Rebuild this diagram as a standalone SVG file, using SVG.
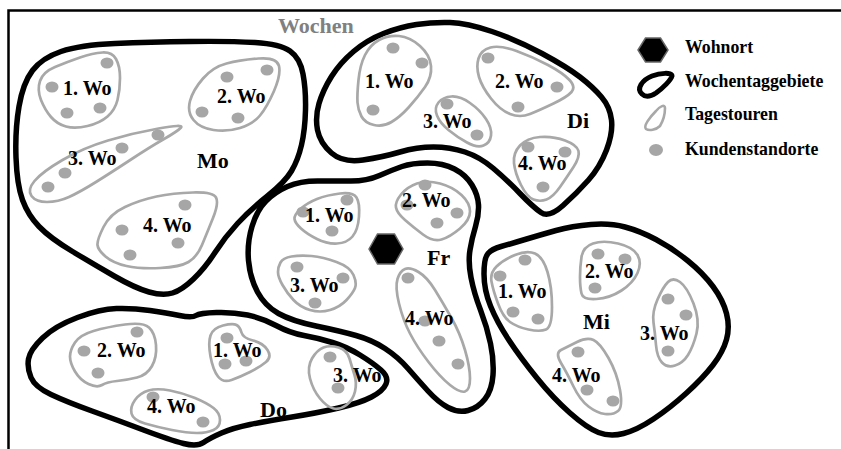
<svg xmlns="http://www.w3.org/2000/svg" width="841" height="449" viewBox="0 0 841 449">
<style>
.area{fill:none;stroke:#000;stroke-width:5.5;stroke-linejoin:round}
.tour{fill:none;stroke:#a8a8a8;stroke-width:2.7;stroke-linejoin:round}
.dot{fill:#a6a6a6}
.lbl{font-family:"Liberation Serif","Times New Roman",serif;font-weight:bold;font-size:20px;fill:#000}
.day{font-family:"Liberation Serif","Times New Roman",serif;font-weight:bold;font-size:22px;fill:#000}
.leg{font-family:"Liberation Serif","Times New Roman",serif;font-weight:bold;font-size:17.8px;fill:#000}
.home{fill:#000;stroke:#666;stroke-width:1.5}
</style>
<rect width="841" height="449" fill="#fff"/>
<g id="frame" fill="none" stroke="#000" stroke-width="2.5">
<path d="M8.5,449 V10.5 H841"/>
</g>
<text x="278" y="33" class="day" style="fill:#808080">Wochen</text>

<g id="Mo">
<path class="area" d="M19,106.5 Q23,83 32.5,70.5 Q42,58 61,51.5 Q80,45 115,43.5 Q150,42 190,41.5 Q230,41 255,42.5 Q280,44 290,51 Q300,58 303,74 Q306,90 305.5,110 Q305,130 301.5,145 Q298,160 291.5,171 Q285,182 267.5,196 Q250,210 237.5,223.5 Q225,237 215,252.5 Q205,268 193.5,279 Q182,290 172.5,293 Q163,296 149,292 Q135,288 115,276.5 Q95,265 72.5,251.5 Q50,238 39,226.5 Q28,215 22.5,200 Q17,185 16,157.5 Q15,130 19,106.5 Z"/>
<g id="Mo-1">
<path class="tour" d="M41,100 Q37,90 40,81 Q43,72 55,67 Q67,62 80,57.5 Q93,53 102.5,52.5 Q112,52 116,59 Q120,66 120,78 Q120,90 117.5,100 Q115,110 107.5,116.5 Q100,123 87.5,126 Q75,129 66,126.5 Q57,124 51,117 Q45,110 41,100 Z"/>
<ellipse class="dot" cx="107" cy="63" rx="6.5" ry="5.5"/><ellipse class="dot" cx="52" cy="87" rx="6.5" ry="5.5"/><ellipse class="dot" cx="67" cy="113" rx="6.5" ry="5.5"/><ellipse class="dot" cx="100" cy="108" rx="6.5" ry="5.5"/>
<text class="lbl" x="63" y="95">1. Wo</text>
</g>
<g id="Mo-2">
<path class="tour" d="M193.5,120 Q187,112 190,101 Q193,90 203,78.5 Q213,67 226.5,63.5 Q240,60 258.5,58.5 Q277,57 279,66 Q281,75 274,91 Q267,107 260,115.5 Q253,124 240,128 Q227,132 213.5,130 Q200,128 193.5,120 Z"/>
<ellipse class="dot" cx="227" cy="77" rx="6.5" ry="5.5"/><ellipse class="dot" cx="267" cy="70" rx="6.5" ry="5.5"/><ellipse class="dot" cx="202" cy="112" rx="6.5" ry="5.5"/><ellipse class="dot" cx="238" cy="118" rx="6.5" ry="5.5"/>
<text class="lbl" x="217" y="103">2. Wo</text>
</g>
<g id="Mo-3">
<path class="tour" d="M181,127.5 Q184,124 158.5,128.5 Q133,133 108,140.5 Q83,148 62.5,160 Q42,172 34.5,181 Q27,190 31.5,196 Q36,202 47,202 Q58,202 69,197 Q80,192 96,182 Q112,172 131,159.5 Q150,147 164,139 Q178,131 181,127.5 Z"/>
<ellipse class="dot" cx="158" cy="135" rx="6.5" ry="5.5"/><ellipse class="dot" cx="122" cy="148" rx="6.5" ry="5.5"/><ellipse class="dot" cx="65" cy="173" rx="6.5" ry="5.5"/><ellipse class="dot" cx="48" cy="187" rx="6.5" ry="5.5"/>
<text class="lbl" x="68" y="165">3. Wo</text>
</g>
<g id="Mo-4">
<path class="tour" d="M97.5,245 Q97,240 103.5,227 Q110,214 125,207 Q140,200 156.5,196.5 Q173,193 193,192.5 Q213,192 216,197.5 Q219,203 213,218 Q207,233 202,245 Q197,257 188.5,262 Q180,267 160,268 Q140,269 126.5,266 Q113,263 105.5,256.5 Q98,250 97.5,245 Z"/>
<ellipse class="dot" cx="185" cy="205" rx="6.5" ry="5.5"/><ellipse class="dot" cx="122" cy="230" rx="6.5" ry="5.5"/><ellipse class="dot" cx="178" cy="243" rx="6.5" ry="5.5"/><ellipse class="dot" cx="130" cy="255" rx="6.5" ry="5.5"/>
<text class="lbl" x="143" y="232">4. Wo</text>
</g>
<text class="day" x="197" y="168">Mo</text>
</g>

<g id="Di">
<path class="area" d="M317.5,130 Q315,117 319,103.5 Q323,90 331.5,76.5 Q340,63 353.5,51.5 Q367,40 383.5,33.5 Q400,27 416.5,24.5 Q433,22 450,22.5 Q467,23 492,31.5 Q517,40 542,53.5 Q567,67 580,77 Q593,87 601.5,97 Q610,107 611.5,120 Q613,133 606.5,150 Q600,167 588.5,180 Q577,193 563,205.5 Q549,218 541,212.5 Q533,207 520,193.5 Q507,180 493.5,168.5 Q480,157 465,152 Q450,147 433.5,147 Q417,147 400,152 Q383,157 363,160 Q343,163 331.5,153 Q320,143 317.5,130 Z"/>
<g id="Di-1">
<path class="tour" d="M357.5,102.5 Q357,95 358.5,80 Q360,65 365,55 Q370,45 379,40 Q388,35 399,36 Q410,37 420,46 Q430,55 431,66 Q432,77 425,87 Q418,97 409,107 Q400,117 391.5,122 Q383,127 374,125 Q365,123 361.5,116.5 Q358,110 357.5,102.5 Z"/>
<ellipse class="dot" cx="393" cy="48" rx="6.5" ry="5.5"/><ellipse class="dot" cx="422" cy="63" rx="6.5" ry="5.5"/><ellipse class="dot" cx="373" cy="110" rx="6.5" ry="5.5"/>
<text class="lbl" x="365" y="88">1. Wo</text>
</g>
<g id="Di-2">
<path class="tour" d="M479,77 Q476,67 478.5,58.5 Q481,50 490.5,47.5 Q500,45 516.5,51 Q533,57 548,65 Q563,73 569.5,80 Q576,87 571.5,92 Q567,97 553.5,103.5 Q540,110 530,114 Q520,118 510,114 Q500,110 491,98.5 Q482,87 479,77 Z"/>
<ellipse class="dot" cx="488" cy="58" rx="6.5" ry="5.5"/><ellipse class="dot" cx="557" cy="87" rx="6.5" ry="5.5"/><ellipse class="dot" cx="518" cy="107" rx="6.5" ry="5.5"/>
<text class="lbl" x="495" y="88">2. Wo</text>
</g>
<g id="Di-3">
<path class="tour" d="M437,115.5 Q434,108 438.5,102.5 Q443,97 451.5,96.5 Q460,96 470,103 Q480,110 486,119 Q492,128 491,135.5 Q490,143 483.5,145.5 Q477,148 467,142.5 Q457,137 448.5,130 Q440,123 437,115.5 Z"/>
<ellipse class="dot" cx="447" cy="104" rx="6.5" ry="5.5"/><ellipse class="dot" cx="477" cy="135" rx="6.5" ry="5.5"/>
<text class="lbl" x="423" y="128">3. Wo</text>
</g>
<g id="Di-4">
<path class="tour" d="M514,163 Q513,153 520,145.5 Q527,138 540,137 Q553,136 565,140.5 Q577,145 578.5,151 Q580,157 573.5,167 Q567,177 560,187 Q553,197 546.5,199.5 Q540,202 533.5,199.5 Q527,197 521,185 Q515,173 514,163 Z"/>
<ellipse class="dot" cx="528" cy="147" rx="6.5" ry="5.5"/><ellipse class="dot" cx="565" cy="152" rx="6.5" ry="5.5"/><ellipse class="dot" cx="543" cy="187" rx="6.5" ry="5.5"/>
<text class="lbl" x="518" y="170">4. Wo</text>
</g>
<text class="day" x="567" y="128">Di</text>
</g>

<g id="Fr">
<path class="area" d="M252,226.5 Q257,210 266,201 Q275,192 287.5,186.5 Q300,181 317.5,181 Q335,181 351,181 Q367,181 379.5,175.5 Q392,170 402,166.5 Q412,163 427.5,163 Q443,163 454.5,169 Q466,175 472,185 Q478,195 478.5,205 Q479,215 475.5,226.5 Q472,238 470,250 Q468,262 471,277.5 Q474,293 480.5,310 Q487,327 490.5,343.5 Q494,360 493,375 Q492,390 485,399 Q478,408 468,410.5 Q458,413 448,407.5 Q438,402 428,391 Q418,380 408,368.5 Q398,357 385,348.5 Q372,340 356,335.5 Q340,331 316,326 Q292,321 278.5,313.5 Q265,306 257.5,292 Q250,278 248.5,260.5 Q247,243 252,226.5 Z"/>
<g id="Fr-1">
<path class="tour" d="M294.5,219 Q294,215 300.5,209 Q307,203 317,199 Q327,195 340,193.5 Q353,192 356.5,197.5 Q360,203 359,216.5 Q358,230 352.5,236.5 Q347,243 337,243.5 Q327,244 317,239 Q307,234 301,228.5 Q295,223 294.5,219 Z"/>
<ellipse class="dot" cx="347" cy="200" rx="6.5" ry="5.5"/><ellipse class="dot" cx="303" cy="212" rx="6.5" ry="5.5"/><ellipse class="dot" cx="332" cy="231" rx="6.5" ry="5.5"/>
<text class="lbl" x="305" y="222">1. Wo</text>
</g>
<g id="Fr-2">
<path class="tour" d="M396,207.5 Q395,202 401,194.5 Q407,187 417,183.5 Q427,180 440,183.5 Q453,187 461.5,195 Q470,203 470,211.5 Q470,220 460,228.5 Q450,237 441.5,239.5 Q433,242 423,234.5 Q413,227 405,220 Q397,213 396,207.5 Z"/>
<ellipse class="dot" cx="425" cy="185" rx="6.5" ry="5.5"/><ellipse class="dot" cx="407" cy="205" rx="6.5" ry="5.5"/><ellipse class="dot" cx="457" cy="213" rx="6.5" ry="5.5"/><ellipse class="dot" cx="437" cy="223" rx="6.5" ry="5.5"/>
<text class="lbl" x="402" y="207">2. Wo</text>
</g>
<g id="Fr-3">
<path class="tour" d="M278,272 Q278,267 280.5,262.5 Q283,258 291.5,256.5 Q300,255 311.5,256 Q323,257 336.5,262 Q350,267 353.5,275 Q357,283 355,288 Q353,293 346.5,300 Q340,307 330,310 Q320,313 310,310 Q300,307 293.5,300 Q287,293 282.5,285 Q278,277 278,272 Z"/>
<ellipse class="dot" cx="297" cy="267" rx="6.5" ry="5.5"/><ellipse class="dot" cx="343" cy="278" rx="6.5" ry="5.5"/><ellipse class="dot" cx="315" cy="303" rx="6.5" ry="5.5"/>
<text class="lbl" x="290" y="292">3. Wo</text>
</g>
<g id="Fr-4">
<path class="tour" d="M399,303.5 Q395,287 397.5,279 Q400,271 405,269 Q410,267 418.5,272 Q427,277 435,290 Q443,303 451.5,318 Q460,333 465,350 Q470,367 470,378.5 Q470,390 465,391.5 Q460,393 450,385 Q440,377 428.5,362 Q417,347 410,333.5 Q403,320 399,303.5 Z"/>
<ellipse class="dot" cx="408" cy="278" rx="6.5" ry="5.5"/><ellipse class="dot" cx="425" cy="321" rx="6.5" ry="5.5"/><ellipse class="dot" cx="439" cy="341" rx="6.5" ry="5.5"/><ellipse class="dot" cx="458" cy="364" rx="6.5" ry="5.5"/>
<text class="lbl" x="405" y="325">4. Wo</text>
</g>
<polygon id="Wohnort" class="home" points="369,249 377.5,234 394.5,234 403,249 394.5,264 377.5,264"/>
<text class="day" x="427" y="265">Fr</text>
</g>

<g id="Mi">
<path class="area" d="M484,274 Q484,258 488,253.5 Q492,249 501,246.5 Q510,244 525,239.5 Q540,235 556,230.5 Q572,226 591,224.5 Q610,223 625,227 Q640,231 656,239.5 Q672,248 687.5,260.5 Q703,273 713,286.5 Q723,300 726.5,313.5 Q730,327 726.5,339.5 Q723,352 713,365 Q703,378 686.5,393 Q670,408 653.5,419 Q637,430 623.5,433.5 Q610,437 598.5,432.5 Q587,428 570,413 Q553,398 536.5,377.5 Q520,357 508.5,339.5 Q497,322 490.5,306 Q484,290 484,274 Z"/>
<g id="Mi-1">
<path class="tour" d="M491.5,281.5 Q490,273 496.5,266.5 Q503,260 515,255 Q527,250 535,253.5 Q543,257 547.5,272 Q552,287 552,307 Q552,327 546,329.5 Q540,332 528.5,329.5 Q517,327 510,322 Q503,317 498,303.5 Q493,290 491.5,281.5 Z"/>
<ellipse class="dot" cx="525" cy="260" rx="6.5" ry="5.5"/><ellipse class="dot" cx="500" cy="276" rx="6.5" ry="5.5"/><ellipse class="dot" cx="513" cy="312" rx="6.5" ry="5.5"/><ellipse class="dot" cx="538" cy="319" rx="6.5" ry="5.5"/>
<text class="lbl" x="498" y="298">1. Wo</text>
</g>
<g id="Mi-2">
<path class="tour" d="M580,277 Q580,267 581.5,257 Q583,247 593,243.5 Q603,240 618,243.5 Q633,247 637.5,255 Q642,263 637.5,273 Q633,283 621.5,290.5 Q610,298 596.5,299 Q583,300 581.5,293.5 Q580,287 580,277 Z"/>
<ellipse class="dot" cx="598" cy="254" rx="6.5" ry="5.5"/><ellipse class="dot" cx="625" cy="259" rx="6.5" ry="5.5"/><ellipse class="dot" cx="595" cy="288" rx="6.5" ry="5.5"/>
<text class="lbl" x="585" y="278">2. Wo</text>
</g>
<g id="Mi-3">
<path class="tour" d="M653.5,322.5 Q652,312 657.5,299.5 Q663,287 668,282 Q673,277 680,282 Q687,287 693.5,303.5 Q700,320 696.5,333.5 Q693,347 688,355 Q683,363 675,365.5 Q667,368 662,362.5 Q657,357 656,345 Q655,333 653.5,322.5 Z"/>
<ellipse class="dot" cx="668" cy="299" rx="6.5" ry="5.5"/><ellipse class="dot" cx="686" cy="315" rx="6.5" ry="5.5"/><ellipse class="dot" cx="668" cy="351" rx="6.5" ry="5.5"/>
<text class="lbl" x="640" y="340">3. Wo</text>
</g>
<g id="Mi-4">
<path class="tour" d="M561,363 Q555,353 561,350 Q567,347 577,342 Q587,337 593.5,340 Q600,343 608.5,358 Q617,373 620,390 Q623,407 618,411 Q613,415 605,414 Q597,413 588.5,406.5 Q580,400 573.5,386.5 Q567,373 561,363 Z"/>
<ellipse class="dot" cx="578" cy="352" rx="6.5" ry="5.5"/><ellipse class="dot" cx="587" cy="390" rx="6.5" ry="5.5"/><ellipse class="dot" cx="613" cy="401" rx="6.5" ry="5.5"/>
<text class="lbl" x="552" y="382">4. Wo</text>
</g>
<text class="day" x="583" y="329">Mi</text>
</g>

<g id="Do">
<path class="area" d="M28.5,359 Q30,350 42.5,338 Q55,326 77.5,317.5 Q100,309 116.5,308.5 Q133,308 150,310.5 Q167,313 179.5,315.5 Q192,318 196,315.5 Q200,313 216.5,312.5 Q233,312 247.5,315 Q262,318 276,325.5 Q290,333 304,335.5 Q318,338 332.5,342.5 Q347,347 360,355 Q373,363 381,370 Q389,377 386,384 Q383,391 371.5,397 Q360,403 338.5,408 Q317,413 292,417 Q267,421 250,424.5 Q233,428 221.5,433 Q210,438 203.5,442.5 Q197,447 183.5,443.5 Q170,440 143.5,430 Q117,420 92,411 Q67,402 51,394.5 Q35,387 31,377.5 Q27,368 28.5,359 Z"/>
<g id="Do-2">
<path class="tour" d="M70,356.5 Q70,350 75,342.5 Q80,335 93.5,331 Q107,327 125,324.5 Q143,322 149,327.5 Q155,333 156,345 Q157,357 152,366 Q147,375 137,377.5 Q127,380 117,381 Q107,382 102,385 Q97,388 88.5,384 Q80,380 75,371.5 Q70,363 70,356.5 Z"/>
<ellipse class="dot" cx="137" cy="332" rx="6.5" ry="5.5"/><ellipse class="dot" cx="84" cy="351" rx="6.5" ry="5.5"/><ellipse class="dot" cx="98" cy="373" rx="6.5" ry="5.5"/>
<text class="lbl" x="97" y="357">2. Wo</text>
</g>
<g id="Do-1">
<path class="tour" d="M210.5,356.5 Q208,343 210.5,335.5 Q213,328 223,325.5 Q233,323 236.5,325 Q240,327 241.5,332.5 Q243,338 253,340.5 Q263,343 267.5,350 Q272,357 266,362 Q260,367 250,372 Q240,377 231.5,380 Q223,383 218,376.5 Q213,370 210.5,356.5 Z"/>
<ellipse class="dot" cx="227" cy="338" rx="6.5" ry="5.5"/><ellipse class="dot" cx="225" cy="364" rx="6.5" ry="5.5"/><ellipse class="dot" cx="246" cy="361" rx="6.5" ry="5.5"/>
<text class="lbl" x="213" y="357">1. Wo</text>
</g>
<g id="Do-3">
<path class="tour" d="M310,378.5 Q307,367 312,358.5 Q317,350 323.5,347.5 Q330,345 338.5,347.5 Q347,350 349.5,358.5 Q352,367 354.5,375 Q357,383 355,391.5 Q353,400 346.5,405 Q340,410 333.5,408.5 Q327,407 320,398.5 Q313,390 310,378.5 Z"/>
<ellipse class="dot" cx="330" cy="357" rx="6.5" ry="5.5"/><ellipse class="dot" cx="338" cy="388" rx="6.5" ry="5.5"/>
<text class="lbl" x="333" y="382">3. Wo</text>
</g>
<g id="Do-4">
<path class="tour" d="M131.5,413.5 Q130,407 135,400 Q140,393 148.5,390.5 Q157,388 170,390.5 Q183,393 195,398 Q207,403 213.5,408 Q220,413 220,420 Q220,427 213.5,430 Q207,433 197,433 Q187,433 172,430 Q157,427 145,423.5 Q133,420 131.5,413.5 Z"/>
<ellipse class="dot" cx="153" cy="397" rx="6.5" ry="5.5"/><ellipse class="dot" cx="203" cy="422" rx="6.5" ry="5.5"/>
<text class="lbl" x="147" y="413">4. Wo</text>
</g>
<text class="day" x="260" y="417">Do</text>
</g>

<g id="legend">
<polygon class="home" points="638,50 645.5,38 660.5,38 668,50 660.5,62 645.5,62"/>
<text class="leg" x="685" y="53">Wohnort</text>
<path d="M642,94 C636,89 642,80 652,76 C660,73 672,72 672,76 C671,80 663,88 656,93 C650,97 645,97 642,94 Z" fill="none" stroke="#000" stroke-width="5"/>
<text class="leg" x="685" y="87">Wochentaggebiete</text>
<path d="M646,129 C643,126 650,117 656,111 C660,106 665,104 665,108 C665,114 663,121 660,126 C656,130 649,131 646,129 Z" fill="none" stroke="#a8a8a8" stroke-width="2.6"/>
<text class="leg" x="685" y="120">Tagestouren</text>
<ellipse class="dot" cx="656" cy="150" rx="7" ry="6"/>
<text class="leg" x="685" y="155">Kundenstandorte</text>
</g>
</svg>
